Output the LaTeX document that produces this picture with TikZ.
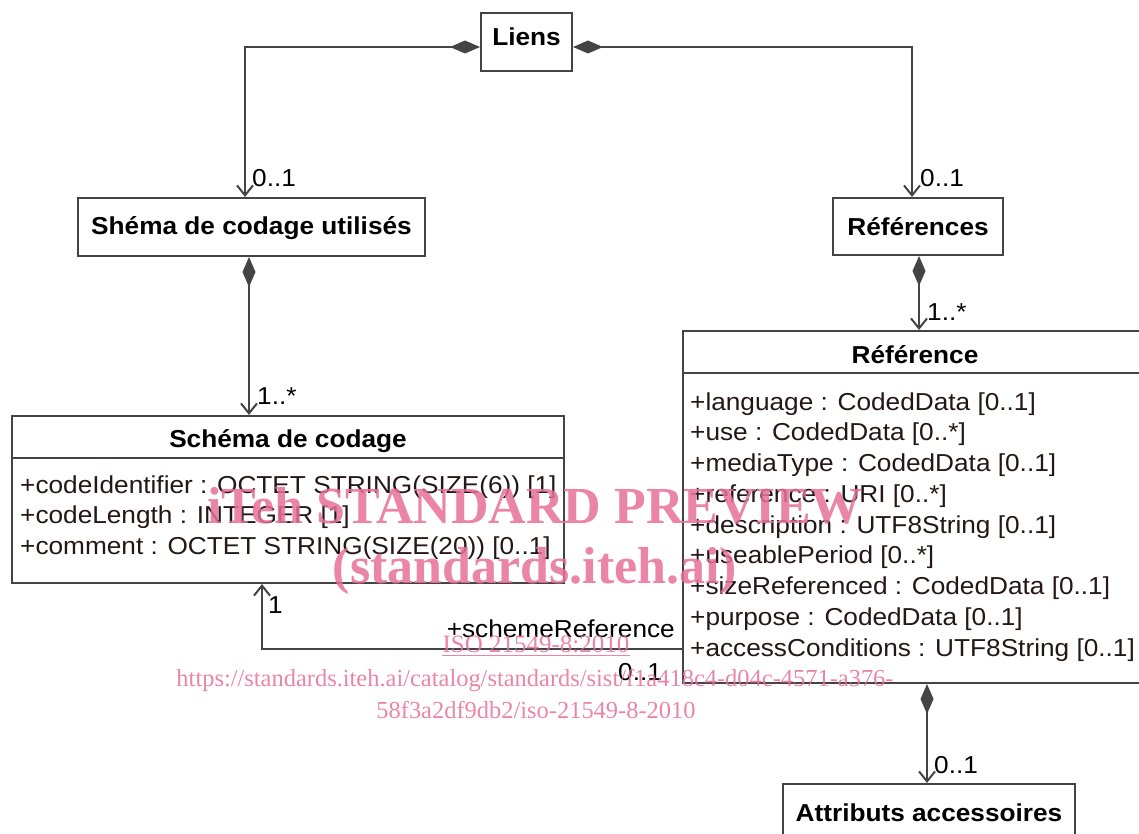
\documentclass[tikz,border=0pt]{standalone}
\usepackage{fontspec}
\setmainfont{Liberation Sans}[FakeStretch=1.07]
\newfontfamily\wmfont{Liberation Serif}
\usetikzlibrary{arrows.meta,calc}
\definecolor{lc}{HTML}{444444}
\definecolor{tc}{HTML}{231815}
\definecolor{wm}{RGB}{232,112,150}
\begin{document}
\begin{tikzpicture}[x=1pt,y=-1pt,
  box/.style={draw=lc, line width=2pt, fill=white, inner sep=0pt},
  ttl/.style={font=\bfseries\fontsize{24.5}{29}\selectfont, text=black, inner sep=0pt, anchor=base},
  att/.style={font=\fontsize{24.5}{29}\selectfont, text=tc, inner sep=0pt, anchor=base west},
  mult/.style={font=\fontsize{24.5}{29}\selectfont, text=black, inner sep=0pt, anchor=base west},
  sep/.style={draw=lc, line width=2pt},
  comp/.style={draw=lc, line width=2pt, {Diamond[length=30pt,width=13pt,fill=lc,line join=miter]}-{Straight Barb[length=10pt,width=16pt]}},
  nav/.style={draw=lc, line width=2pt, -{Straight Barb[length=10pt,width=16pt]}},
  wmt/.style={text=wm, text opacity=0.85, inner sep=0pt, anchor=base}
]
\useasboundingbox (0,0) rectangle (1139,834);

% class boxes
\node[box, minimum width=91pt, minimum height=58pt] (liens) at (526.5,42) {};
\node[ttl] (liensT) at (526.5,46) {Liens};
\node[box, minimum width=347pt, minimum height=58pt] (shema) at (251.5,227) {};
\node[ttl] (shemaT) at (251.5,235) {Shéma de codage utilisés};
\node[box, minimum width=170pt, minimum height=57pt] (refs) at (918,226.5) {};
\node[ttl] (refsT) at (918,236) {Références};
\node[box, minimum width=552pt, minimum height=167pt] (schema) at (288,499.5) {};
\node[ttl] (schemaT) at (288,447) {Schéma de codage};
\node[box, minimum width=458pt, minimum height=352pt] (ref) at (912,507) {};
\node[ttl] (refT) at (915,363) {Référence};
\node[box, minimum width=292pt, minimum height=58pt] (attr) at (929,813) {};
\node[ttl] (attrT) at (929,821) {Attributs accessoires};

% compartments
\draw[sep] ($(schema.north west)+(0,43)$) -- ($(schema.north east)+(0,43)$);
\draw[sep] ($(ref.north west)+(0,43)$) -- ($(ref.north east)+(0,43)$);

\foreach \t [count=\i] in {{+codeIdentifier : OCTET STRING(SIZE(6)) [1]},{+codeLength : INTEGER [1]},{+comment : OCTET STRING(SIZE(20)) [0..1]}}
  \node[att] (sa\i) at (20,{493+30.5*(\i-1)}) {\t};

\foreach \t [count=\i] in {{+language : CodedData [0..1]},{+use : CodedData [0..*]},{+mediaType : CodedData [0..1]},{+reference : URI [0..*]},{+description : UTF8String [0..1]},{+useablePeriod [0..*]},{+sizeReferenced : CodedData [0..1]},{+purpose : CodedData [0..1]},{+accessConditions : UTF8String [0..1]}}
  \node[att] (ra\i) at (690,{410+30.75*(\i-1)}) {\t};

% connectors
\coordinate (c1) at ([yshift=-5pt]liens.west);
\coordinate (c1e) at ([xshift=-6.5pt]shema.north);
\draw[comp] (c1) -| (c1e);
\coordinate (c2) at ([yshift=-5pt]liens.east);
\coordinate (c2e) at ([xshift=-6pt]refs.north);
\draw[comp] (c2) -| (c2e);
\coordinate (c3) at ([xshift=-2.5pt]shema.south);
\draw[comp] (c3) -- (c3 |- schema.north);
\coordinate (c4) at ([xshift=1pt]refs.south);
\draw[comp] (c4) -- (c4 |- ref.north);
\coordinate (c5) at ([xshift=15pt]ref.south);
\draw[comp] (c5) -- (c5 |- attr.north);
\coordinate (c6) at ([yshift=-142pt]ref.west);
\coordinate (c6e) at ([xshift=-26pt]schema.south);
\draw[nav] (c6) -| (c6e);

% multiplicities / roles
\node[mult] (m1) at (252,187) {0..1};
\node[mult] (m2) at (920,187) {0..1};
\node[mult] (m3) at (257,404) {1..*};
\node[mult] (m4) at (927,320) {1..*};
\node[mult] (m5) at (268,613) {1};
\node[mult, anchor=base east] (m6) at (675,637) {+schemeReference};
\node[mult] (m7) at (618,680) {0..1};
\node[mult] (m8) at (934,773) {0..1};

% watermark
\node[wmt, font=\wmfont\bfseries\fontsize{52}{52}\selectfont] (wm1) at (535,523) {iTeh STANDARD PREVIEW};
\node[wmt, font=\wmfont\bfseries\fontsize{52}{52}\selectfont] (wm2) at (535,583) {(standards.iteh.ai)};
\node[wmt, font=\wmfont\fontsize{25}{25}\selectfont] (wm3) at (536,652) {ISO 21549-8:2010};
\draw[wm, draw opacity=0.85, line width=1.5pt] ([yshift=-3.5pt]wm3.base west) -- ([yshift=-3.5pt]wm3.base east);
\node[wmt, font=\wmfont\fontsize{24.45}{25}\selectfont] (wm4) at (535,686) {https://standards.iteh.ai/catalog/standards/sist/f1a418c4-d04c-4571-a376-};
\node[wmt, font=\wmfont\fontsize{24.45}{25}\selectfont] (wm5) at (536,718) {58f3a2df9db2/iso-21549-8-2010};
\end{tikzpicture}
\end{document}
